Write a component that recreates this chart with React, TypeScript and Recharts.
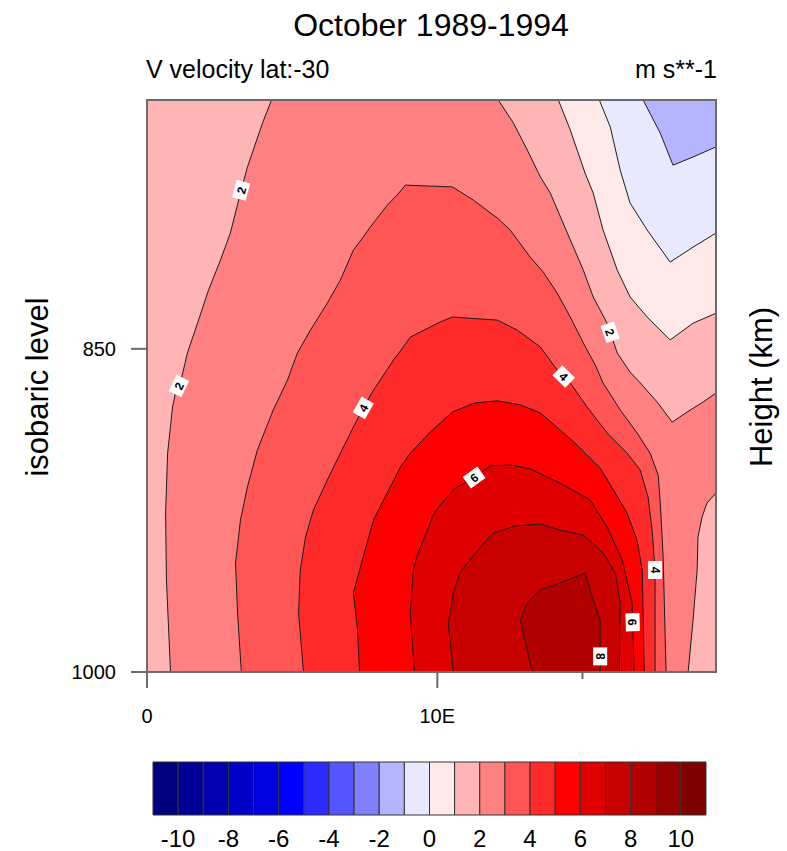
import React from 'react';
import { ScatterChart, Scatter, XAxis, YAxis, ReferenceArea } from 'recharts';

type Pair = [number, number]; // [longitude (deg E), pressure (hPa)]

const font = "'Liberation Sans', Arial, Helvetica, sans-serif";
const frameColor = '#6b6b6b';
const lineColor = '#1c1c1c';

// colour table: one colour per interval, levels -10..10 step 1
const levels = [-10, -9, -8, -7, -6, -5, -4, -3, -2, -1, 0, 1, 2, 3, 4, 5, 6, 7, 8, 9, 10];
const fillColors = [
  '#00007f', '#000098', '#0000b0', '#0000c8', '#0000e0', '#0000ff', '#2b2bff', '#5555ff',
  '#8080ff', '#b5b5ff', '#e8e8ff', '#ffe8e8', '#ffb5b5', '#ff8080', '#ff5555', '#ff2b2b',
  '#ff0000', '#e00000', '#c80000', '#b00000', '#980000', '#7f0000',
];
const colorbarTicks = [-10, -8, -6, -4, -2, 0, 2, 4, 6, 8, 10];

const lonRange: Pair = [0, 19.6];
const presRange: Pair = [750, 1000];
const lonTicks = [0, 10, 15];
const lonTickLabels: Record<number, string> = { 0: '0', 10: '10E' };
const presTicks = [850, 1000];

// plot corners (domain limits)
const frameCorners: Pair[] = [[0, 750], [19.6, 750], [19.6, 1000], [0, 1000]];
const cornerTopRight: Pair[] = [[19.6, 750]];

// contour lines
const c2West: Pair[] = [
  [0.81, 1000], [0.67, 954.8], [0.64, 923.2], [0.71, 895.8], [0.88, 875.2], [0.98, 869.1],
  [1.15, 864.7], [1.39, 851.8], [1.74, 839.1], [2.12, 825.2], [2.53, 812.9], [2.87, 801.9],
  [3.22, 785.9], [3.46, 775.7], [3.98, 758.7], [4.29, 750],
];
const c2East: Pair[] = [
  [12.1, 750], [12.62, 758.7], [13.1, 769.1], [13.55, 779.6], [13.89, 785.9], [14.48, 801.9],
  [15.03, 817.0], [15.37, 828.1], [15.85, 839.1], [16.2, 851.8], [16.64, 860.0], [16.99, 864.7],
  [17.57, 873.0], [18.09, 881.9], [18.61, 877.4], [19.16, 873.0], [19.6, 869.1],
];
const c2SouthEast: Pair[] = [
  [19.6, 913.9], [19.29, 918.5], [19.12, 925.0], [18.98, 934.4], [18.95, 950.0], [18.81, 974.2],
  [18.64, 1000],
];
const c3: Pair[] = [
  [3.25, 1000], [3.12, 970.8], [3.05, 946.6], [3.22, 926.4], [3.46, 911.1], [3.8, 894.4],
  [4.35, 876.5], [4.84, 863.4], [5.18, 851.8], [5.63, 842.0], [6.21, 830.7], [6.66, 821.1],
  [7.11, 808.8], [7.45, 803.5], [7.69, 799.5], [8.28, 790.7], [8.62, 786.7], [8.9, 782.8],
  [9.76, 783.2], [10.52, 783.5], [11.24, 788.7], [12.07, 795.9], [12.51, 800.7], [13.2, 811.7],
  [13.65, 817.8], [14.13, 826.5], [14.58, 836.5], [15.03, 847.5], [15.44, 856.9], [15.71, 864.7],
  [16.3, 876.5], [16.88, 886.7], [17.33, 895.8], [17.61, 905.7], [17.68, 918.5], [17.78, 943.8],
  [17.88, 1000],
];
const c4: Pair[] = [
  [5.39, 1000], [5.22, 970.8], [5.28, 950.0], [5.46, 934.4], [5.73, 921.8], [6.21, 908.0],
  [6.66, 895.8], [7.11, 884.1], [7.45, 875.6], [7.8, 867.8], [8.04, 863.4], [8.49, 854.8],
  [8.83, 849.2], [9.07, 845.0], [10.1, 838.6], [10.52, 836.5], [12.07, 837.8], [12.75, 842.0],
  [13.55, 849.2], [14.13, 859.1], [14.58, 864.7], [15.16, 875.2], [15.85, 886.7], [16.54, 895.8],
  [16.99, 903.4], [17.26, 915.7], [17.4, 931.1], [17.5, 950.0], [17.5, 1000],
];
const c5: Pair[] = [
  [7.32, 1000], [7.25, 979.1], [7.11, 961.0], [7.35, 948.6], [7.8, 926.4], [8.38, 911.1],
  [8.73, 902.0], [9.07, 895.8], [9.76, 886.3], [10.52, 877.4], [11.31, 873.4], [12.07, 872.5],
  [12.86, 874.3], [13.55, 877.8], [14.23, 885.4], [14.75, 891.3], [15.61, 902.5], [16.13, 913.9],
  [16.54, 923.2], [16.88, 935.8], [17.06, 950.0], [17.13, 1000],
];
const c6: Pair[] = [
  [9.21, 1000], [9.07, 970.8], [9.17, 950.0], [9.31, 942.9], [9.66, 931.1], [9.86, 924.1],
  [10.1, 919.4], [10.62, 911.6], [11.24, 907.1], [11.82, 901.6], [12.51, 901.1], [13.2, 902.9],
  [14.23, 909.4], [15.27, 917.1], [15.85, 929.7], [16.37, 945.2], [16.71, 965.8], [16.78, 1000],
];
const c7: Pair[] = [
  [10.55, 1000], [10.38, 976.6], [10.55, 961.0], [10.79, 951.0], [11.31, 941.9], [11.93, 932.5],
  [12.69, 929.2], [13.55, 928.3], [14.23, 931.1], [15.03, 933.5], [15.71, 941.9], [16.13, 951.4],
  [16.3, 965.8], [16.27, 1000],
];
const c8: Pair[] = [
  [13.27, 1000], [12.86, 974.2], [13.1, 965.8], [13.55, 959.6], [14.23, 956.2], [15.09, 951.4],
  [15.37, 964.4], [15.61, 974.2], [15.61, 1000],
];
const c1: Pair[] = [
  [14.17, 750], [14.58, 761.4], [15.09, 778.1], [15.37, 785.9], [15.71, 800.7], [16.2, 817.0],
  [16.64, 828.1], [17.23, 836.5], [18.02, 846.2], [18.81, 839.1], [19.6, 834.9],
];
const c0: Pair[] = [
  [15.58, 750], [15.96, 760.3], [16.3, 776.9], [16.64, 789.9], [17.23, 800.7], [18.02, 813.7],
  [18.81, 807.6], [19.6, 801.9],
];
const cNeg1: Pair[] = [
  [17.09, 750], [17.68, 762.6], [18.12, 775.0], [18.81, 771.8], [19.6, 767.9],
];

const contours: Record<string, Pair[]> = { c2West, c2East, c2SouthEast, c3, c4, c5, c6, c7, c8, c1, c0, cNeg1 };

// filled regions: value >= level (above) or value <= level (below)
const bands = [
  { level: 2, above: true, lines: ['c2West', 'c2East', 'c2SouthEast'] },
  { level: 3, above: true, lines: ['c3'] },
  { level: 4, above: true, lines: ['c4'] },
  { level: 5, above: true, lines: ['c5'] },
  { level: 6, above: true, lines: ['c6'] },
  { level: 7, above: true, lines: ['c7'] },
  { level: 8, above: true, lines: ['c8'] },
  { level: 1, above: false, lines: ['c1'] },
  { level: 0, above: false, lines: ['c0'] },
  { level: -1, above: false, lines: ['cNeg1'] },
];
const backgroundLevel = 1; // interval 1..2 fills the rest

// contour labels: which line, which segment, how far along it
const contourLabels = [
  { line: 'c2West', seg: 12, t: 0.1, text: '2' },
  { line: 'c2West', seg: 5, t: 0.7, text: '2' },
  { line: 'c2East', seg: 8, t: 0.3, text: '2' },
  { line: 'c4', seg: 8, t: 0, text: '4' },
  { line: 'c4', seg: 19, t: 0.5, text: '4' },
  { line: 'c4', seg: 27, t: 0, text: '4' },
  { line: 'c6', seg: 8, t: 0.05, text: '6' },
  { line: 'c6', seg: 16, t: 0.28, text: '6' },
  { line: 'c8', seg: 7, t: 0.7, text: '8' },
];

const toPoints = (pairs: Pair[]) => pairs.map(([lon, p]) => ({ lon, p }));
const colorIndex = (level: number) => levels.indexOf(level) + 1; // interval [level, level+1]

type XY = { x: number; y: number };
const pathOf = (pts: XY[], close: boolean) =>
  pts.map((q, i) => `${i ? 'L' : 'M'}${q.x},${q.y}`).join('') + (close ? 'Z' : '');

const NoDot = () => <g />;

const fillLine = (color: string) => (props: any) => (
  <path d={pathOf(props.points, true)} fill={color} stroke="none" />
);

const strokeLine = (name: string) => (props: any) => {
  const pts: XY[] = props.points;
  const labels = contourLabels
    .filter((l) => l.line === name)
    .map((l, i) => {
      const a = pts[l.seg];
      const b = pts[l.seg + 1];
      const x = a.x + (b.x - a.x) * l.t;
      const y = a.y + (b.y - a.y) * l.t;
      let ang = (Math.atan2(b.y - a.y, b.x - a.x) * 180) / Math.PI;
      if (ang > 90) ang -= 180;
      if (ang < -90) ang += 180;
      return (
        <g key={i} transform={`translate(${x},${y}) rotate(${ang})`}>
          <rect x={-9} y={-7} width={18} height={14} fill="#fff" />
          <text y={4.5} textAnchor="middle" fontSize={12} fontWeight={700} fontFamily={font} fill="#000">
            {l.text}
          </text>
        </g>
      );
    });
  return (
    <g>
      <path d={pathOf(pts, false)} fill="none" stroke={lineColor} strokeWidth={1} />
      {labels}
    </g>
  );
};

const frameLine = (props: any) => (
  <path d={pathOf(props.points, true)} fill="none" stroke={frameColor} strokeWidth={2} />
);

const BottomTick = (props: any) => {
  const { x, y, payload } = props;
  const label = lonTickLabels[payload.value];
  const major = label !== undefined;
  return (
    <g>
      <line x1={x} x2={x} y1={y} y2={y + (major ? 16 : 7)} stroke={frameColor} strokeWidth={2} />
      {major && (
        <text x={x} y={y + 51} textAnchor="middle" fontSize={20} fontFamily={font} fill="#000">
          {label}
        </text>
      )}
    </g>
  );
};

const TopTick = (props: any) => {
  const { x, y, payload } = props;
  const major = lonTickLabels[payload.value] !== undefined;
  return <line x1={x} x2={x} y1={y} y2={y - (major ? 13 : 7)} stroke={frameColor} strokeWidth={2} />;
};

const LeftTick = (props: any) => {
  const { x, y, payload } = props;
  return (
    <g>
      <line x1={x} x2={x - 16} y1={y} y2={y} stroke={frameColor} strokeWidth={2} />
      <text x={x - 31} y={y + 7} textAnchor="end" fontSize={20} fontFamily={font} fill="#000">
        {payload.value}
      </text>
    </g>
  );
};

const colorbarBoxes = fillColors.map((color, i) => ({
  from: i === 0 ? levels[0] - 1 : levels[i - 1],
  to: i === levels.length ? levels[levels.length - 1] + 1 : levels[i],
  color,
}));

export default function App() {
  const axisLine = { stroke: frameColor, strokeWidth: 2 };
  return (
    <div style={{ position: 'absolute', left: 0, top: 0, width: 787, height: 851, background: '#fff' }}>
      <div style={{ position: 'absolute', left: 0, top: 0 }}>
        <ScatterChart width={787} height={740} margin={{ top: 88, right: 59, bottom: 28, left: 77 }}>
          <XAxis
            type="number"
            dataKey="lon"
            domain={lonRange}
            ticks={lonTicks}
            interval={0}
            height={40}
            tickSize={0}
            tickMargin={0}
            tickLine={false}
            axisLine={axisLine}
            tick={BottomTick}
          />
          <XAxis
            xAxisId="top"
            orientation="top"
            type="number"
            dataKey="lon"
            domain={lonRange}
            ticks={lonTicks}
            interval={0}
            height={12}
            tickSize={0}
            tickMargin={0}
            tickLine={false}
            axisLine={axisLine}
            tick={TopTick}
          />
          <YAxis
            type="number"
            dataKey="p"
            scale="log"
            domain={presRange}
            reversed
            ticks={presTicks}
            interval={0}
            width={70}
            tickSize={0}
            tickMargin={0}
            tickLine={false}
            axisLine={axisLine}
            tick={LeftTick}
          />
          <YAxis
            yAxisId="right"
            orientation="right"
            type="number"
            domain={[0, 1]}
            width={12}
            tick={false}
            tickLine={false}
            axisLine={axisLine}
          />
          <Scatter
            name="background"
            data={toPoints(frameCorners)}
            shape={NoDot}
            line={fillLine(fillColors[colorIndex(backgroundLevel)])}
            isAnimationActive={false}
          />
          {bands.map((b) => {
            const pairs = b.lines.flatMap((n) => contours[n]);
            const all = b.above ? pairs : [...pairs, ...cornerTopRight];
            const color = fillColors[b.above ? colorIndex(b.level) : colorIndex(b.level) - 1];
            return (
              <Scatter
                key={`band-${b.level}`}
                name={`band-${b.level}`}
                data={toPoints(all)}
                shape={NoDot}
                line={fillLine(color)}
                isAnimationActive={false}
              />
            );
          })}
          {Object.keys(contours).map((n) => (
            <Scatter
              key={`line-${n}`}
              name={n}
              data={toPoints(contours[n])}
              shape={NoDot}
              line={strokeLine(n)}
              isAnimationActive={false}
            />
          ))}
          <Scatter name="frame" data={toPoints(frameCorners)} shape={NoDot} line={frameLine} isAnimationActive={false} />
        </ScatterChart>
      </div>
      <div style={{ position: 'absolute', left: 0, top: 740 }}>
        <ScatterChart width={787} height={111} margin={{ top: 22, right: 81, bottom: 0, left: 153 }}>
          <XAxis
            type="number"
            dataKey="v"
            domain={[-11, 11]}
            ticks={colorbarTicks}
            interval={0}
            height={36}
            tickSize={0}
            tickMargin={15}
            tickLine={false}
            axisLine={false}
            tick={{ fontSize: 24, fill: '#000', fontFamily: font }}
          />
          <YAxis type="number" dataKey="w" domain={[0, 1]} hide width={0} />
          {colorbarBoxes.map((b, i) => (
            <ReferenceArea
              key={i}
              x1={b.from}
              x2={b.to}
              y1={0}
              y2={1}
              fill={b.color}
              fillOpacity={1}
              stroke="#333"
              strokeWidth={1}
            />
          ))}
          <Scatter
            data={colorbarBoxes.map((b) => ({ v: (b.from + b.to) / 2, w: 0.5 }))}
            shape={NoDot}
            isAnimationActive={false}
          />
        </ScatterChart>
      </div>
      <svg
        width={787}
        height={851}
        style={{ position: 'absolute', left: 0, top: 0, pointerEvents: 'none' }}
        fontFamily={font}
      >
        <text x={431} y={36} textAnchor="middle" fontSize={32} fill="#000">
          October 1989-1994
        </text>
        <text x={146} y={78} fontSize={25} fill="#000">
          V velocity lat:-30
        </text>
        <text x={717} y={78} textAnchor="end" fontSize={25} fill="#000">
          m s**-1
        </text>
        <text transform="translate(48,387) rotate(-90)" textAnchor="middle" fontSize={31} fill="#000">
          isobaric level
        </text>
        <text transform="translate(772,387) rotate(-90)" textAnchor="middle" fontSize={31} fill="#000">
          Height (km)
        </text>
      </svg>
    </div>
  );
}
